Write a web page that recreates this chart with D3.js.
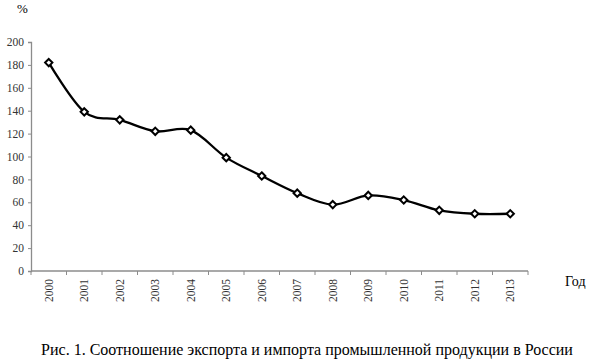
<!DOCTYPE html>
<html>
<head>
<meta charset="utf-8">
<script src="https://cdn.jsdelivr.net/npm/d3@7"></script>
<style>
  body { margin: 0; background: #fff; }
  text { font-family: "Liberation Serif", "Times New Roman", serif; }
</style>
</head>
<body>
<svg id="chart" width="595" height="360"></svg>
<script>
var years = ["2000","2001","2002","2003","2004","2005","2006","2007","2008","2009","2010","2011","2012","2013"];
var ratio = [182, 139, 132, 122, 123, 99, 83, 68, 58, 66, 62, 53, 50, 50];
var yTicks = [0, 20, 40, 60, 80, 100, 120, 140, 160, 180, 200];

var svg = d3.select("#chart");
var plotL = 31, plotR = 528, plotT = 42, plotB = 271;

var x = d3.scaleBand().domain(years).range([plotL, plotR]);
var y = d3.scaleLinear().domain([0, 200]).range([plotB, plotT]);

// y axis
var yAxis = svg.append("g")
    .attr("transform", "translate(" + plotL + ",0)")
    .call(d3.axisLeft(y).tickValues(yTicks).tickSize(3).tickPadding(4));
yAxis.select(".domain").attr("stroke", "#8c8c8c").attr("stroke-width", 1.3);
yAxis.selectAll(".tick line").attr("stroke", "#8c8c8c");
yAxis.selectAll(".tick text")
    .attr("font-size", 11.5)
    .attr("font-family", "Liberation Serif")
    .attr("fill", "#333");

// x axis: ticks between categories
var xg = svg.append("g").attr("transform", "translate(0," + plotB + ")");
xg.append("line")
    .attr("x1", plotL).attr("x2", plotR)
    .attr("stroke", "#8c8c8c").attr("stroke-width", 1.3);
var bounds = years.map(function(d){ return x(d); }).concat([plotR]);
xg.selectAll(".tk").data(bounds).enter().append("line")
    .attr("x1", function(d){ return d; }).attr("x2", function(d){ return d; })
    .attr("y1", 0).attr("y2", 4)
    .attr("stroke", "#8c8c8c");
xg.selectAll(".lbl").data(years).enter().append("text")
    .attr("transform", function(d){
      return "translate(" + (x(d) + x.bandwidth() / 2 + 4) + ",8) rotate(-90)";
    })
    .attr("text-anchor", "end")
    .attr("font-size", 11.5)
    .attr("fill", "#333")
    .text(function(d){ return d; });

// line
var line = d3.line()
    .x(function(d, i){ return x(years[i]) + x.bandwidth() / 2; })
    .y(function(d){ return y(d); })
    .curve(d3.curveCatmullRom.alpha(0));
svg.append("path")
    .datum(ratio)
    .attr("d", line)
    .attr("fill", "none")
    .attr("stroke", "#000")
    .attr("stroke-width", 2.3);

// markers
svg.selectAll(".pt").data(ratio).enter().append("path")
    .attr("d", d3.symbol().type(d3.symbolDiamond2).size(34))
    .attr("transform", function(d, i){
      return "translate(" + (x(years[i]) + x.bandwidth() / 2) + "," + y(d) + ")";
    })
    .attr("fill", "#fff")
    .attr("stroke", "#000")
    .attr("stroke-width", 2);

// labels
svg.append("text").attr("x", 17).attr("y", 13)
    .attr("font-size", 13).attr("fill", "#000").text("%");
svg.append("text").attr("x", 565).attr("y", 286)
    .attr("font-size", 14).attr("fill", "#000").text("Год");
svg.append("text").attr("x", 307).attr("y", 355)
    .attr("text-anchor", "middle")
    .attr("font-size", 16).attr("fill", "#000")
    .text("Рис. 1. Соотношение экспорта и импорта промышленной продукции в России");
</script>
</body>
</html>
